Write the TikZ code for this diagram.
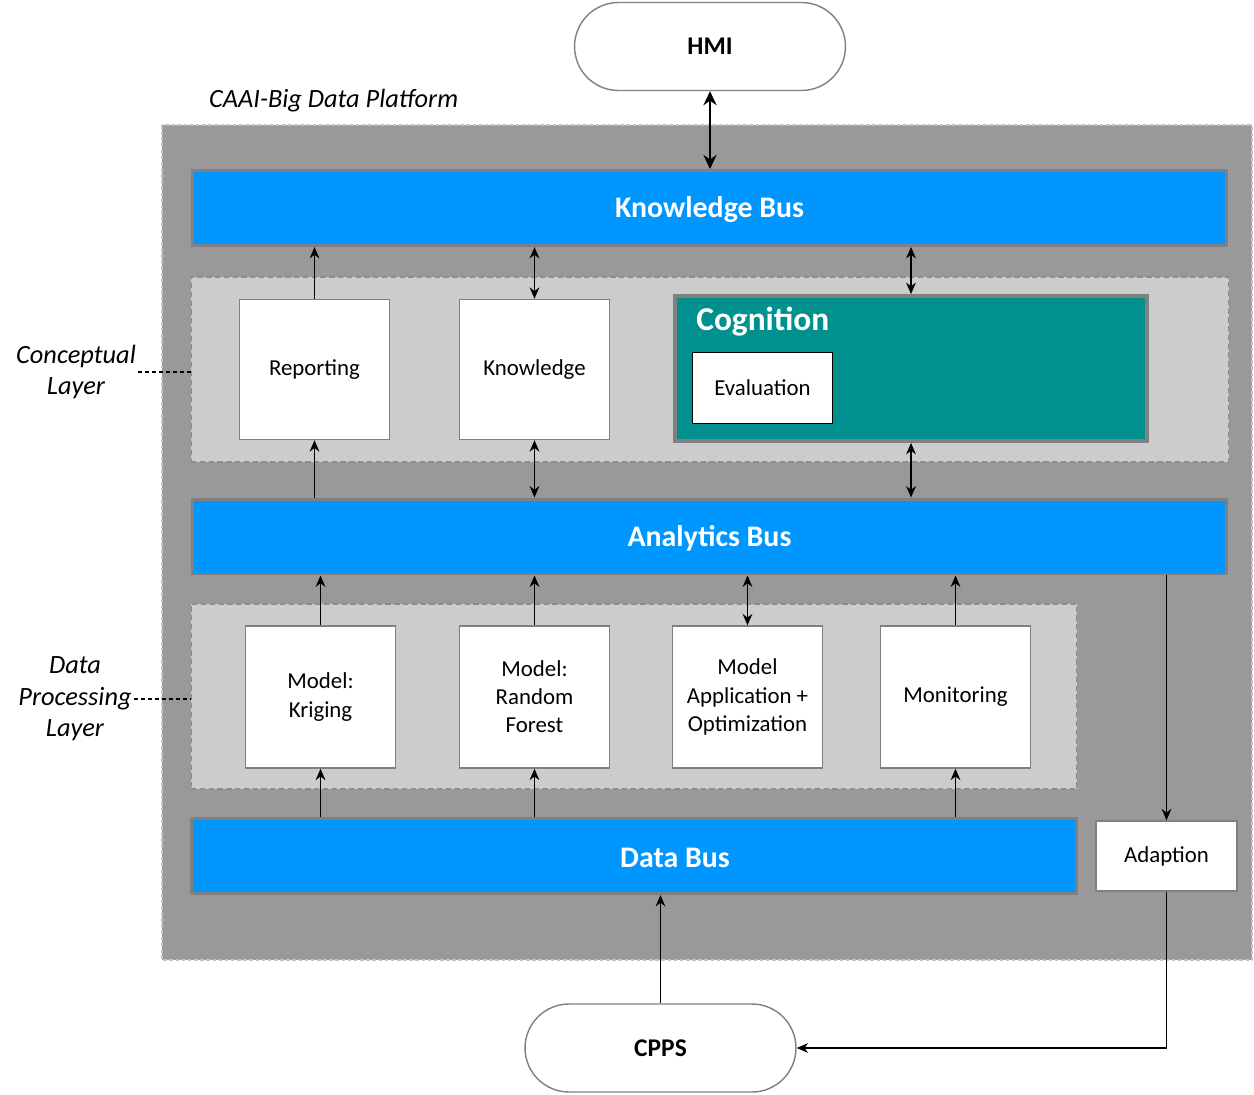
\documentclass[tikz,border=0pt]{standalone}
\usepackage{fontspec}
\setmainfont{Carlito}
\usepackage{tikz}
\usetikzlibrary{arrows.meta, positioning}
\definecolor{caai0}{RGB}{153,153,153}
\definecolor{caai1}{RGB}{204,204,204}
\definecolor{caaiedge}{RGB}{128,128,128}
\definecolor{caaiblue}{RGB}{0,150,255}
\definecolor{caaiteal}{RGB}{0,145,143}

\begin{document}
\begin{tikzpicture}[x=0.02cm, y=-0.02cm, >={Stealth[length=6.5pt,width=5.5pt]},
    bustext/.style={text=white, yshift=-1pt, font=\fontsize{17}{20}\selectfont\bfseries},
    bus/.style={draw=caaiedge, line width=1.7pt, fill=caaiblue, inner sep=0pt, minimum height=1.5cm},
    box/.style={draw=caaiedge, line width=0.8pt, fill=white, align=center, inner sep=2pt,
        minimum width=3cm, minimum height=2.8cm, font=\fontsize{13}{16}\selectfont},
    panel/.style={draw=caaiedge!90, line width=0.6pt, dash pattern=on 3pt off 2pt, fill=caai1, inner sep=0pt},
    pill/.style={draw=caaiedge, line width=0.8pt, fill=white, rounded corners=0.88cm,
        minimum width=5.42cm, minimum height=1.76cm, font=\fontsize{14.5}{17}\selectfont\bfseries},
    layerlabel/.style={align=center, inner sep=1pt, font=\fontsize{15}{18}\selectfont\itshape},
    link/.style={line width=1pt}]
    \useasboundingbox (0,0) rectangle (1254,1095);

    % platform
    \draw[draw=caai1!80!caai0, fill=caai0, line width=0.6pt, dash pattern=on 2pt off 1.5pt] (162,125) rectangle (1252,960);
    \node[layerlabel, anchor=west] (plattitle) at (207,101) {CAAI-Big Data Platform};

    \node[pill] (hmi) at (710,46.5) {HMI};
    \node[pill] (cpps) at (660.5,1048) {CPPS};

    % buses
    \node[bus, minimum width=20.7cm, label={[bustext]center:Knowledge Bus}] (kbus) at (709.5,208) {};
    \node[bus, minimum width=20.7cm, label={[bustext]center:Analytics Bus}] (abus) at (709.5,536.5) {};
    \node[bus, minimum width=17.7cm, label={[bustext, xshift=0.82cm]center:Data Bus}] (dbus) at (634,856) {};

    % conceptual layer
    \node[panel, minimum width=20.76cm, minimum height=3.7cm] (cpanel) at (710,369.5) {};
    \node[box] (reporting) at (314.5,369.5) {Reporting};
    \node[box] (knowledge) at (534.5,369.5) {Knowledge};
    \node[draw=caaiedge, line width=2.2pt, fill=caaiteal, minimum width=9.45cm, minimum height=2.9cm] (cognition) at (911,368.5) {};
    \node[anchor=west, inner sep=0pt, text=white, font=\fontsize{19}{22}\selectfont\bfseries] (cogtitle) at (696,322) {Cognition};
    \node[box, draw=black, line width=1pt, minimum width=2.8cm, minimum height=1.42cm] (evaluation) at (762.5,388) {Evaluation};

    % data processing layer
    \node[panel, minimum width=17.72cm, minimum height=3.7cm] (dpanel) at (634,696.5) {};
    \node[box, minimum height=2.84cm] (kriging) at (320.5,697) {Model:\\Kriging};
    \node[box, minimum height=2.84cm] (forest) at (534.5,697) {Model:\\Random\\Forest};
    \node[box, minimum height=2.84cm] (modelapp) at (747.5,697) {Model\\Application +\\Optimization};
    \node[box, minimum height=2.84cm] (monitoring) at (955.5,697) {Monitoring};
    \node[box, minimum width=2.82cm, minimum height=1.4cm] (adaption) at (1166.5,856) {Adaption};

    \node[layerlabel] (clabel) at (76,372) {Conceptual\\Layer};
    \node[layerlabel] (dlabel) at (75,699) {Data\\Processing\\Layer};
    \draw[line width=0.6pt, dash pattern=on 2.5pt off 1.5pt] (clabel.east) -- (clabel.east -| cpanel.west);
    \draw[line width=0.6pt, dash pattern=on 2.5pt off 1.5pt] (dlabel.east) -- (dlabel.east -| dpanel.west);

    % connectors
    \draw[line width=1.6pt, >={Stealth[length=8pt,width=7.5pt]}, <->] (hmi.south) -- (kbus.north -| hmi.south);
    \draw[link, ->] (reporting.north) -- (reporting.north |- kbus.south);
    \draw[link, <->] (knowledge.north) -- (knowledge.north |- kbus.south);
    \draw[link, <->] (cognition.north) -- (cognition.north |- kbus.south);
    \draw[link, ->] (reporting.south |- abus.north) -- (reporting.south);
    \draw[link, <->] (knowledge.south) -- (knowledge.south |- abus.north);
    \draw[link, <->] (cognition.south) -- (cognition.south |- abus.north);
    \draw[link, ->] (kriging.north) -- (kriging.north |- abus.south);
    \draw[link, ->] (forest.north) -- (forest.north |- abus.south);
    \draw[link, <->] (modelapp.north) -- (modelapp.north |- abus.south);
    \draw[link, ->] (monitoring.north) -- (monitoring.north |- abus.south);
    \draw[link, ->] (kriging.south |- dbus.north) -- (kriging.south);
    \draw[link, ->] (forest.south |- dbus.north) -- (forest.south);
    \draw[link, ->] (monitoring.south |- dbus.north) -- (monitoring.south);
    \draw[link, ->] (adaption.north |- abus.south) -- (adaption.north);
    \draw[link, ->] (adaption.south) |- (cpps.east);
    \draw[link, ->] (cpps.north) -- (cpps.north |- dbus.south);
\end{tikzpicture}
\end{document}
